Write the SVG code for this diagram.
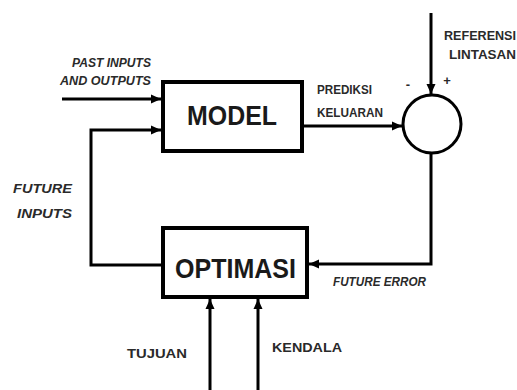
<svg xmlns="http://www.w3.org/2000/svg" width="517" height="390" viewBox="0 0 517 390">
<style>
.box{fill:#fff;stroke:#000;stroke-width:4}
.ln{fill:none;stroke:#000;stroke-width:3}
.big{font-family:"Liberation Sans",Arial,sans-serif;font-weight:bold;font-size:28px;fill:#1a1a1a}
.lb{font-family:"Liberation Sans",Arial,sans-serif;font-weight:bold;font-size:13px;fill:#2a2a2a}
.it{font-style:italic}
</style>
<defs>
<marker id="ah" markerUnits="userSpaceOnUse" markerWidth="10" markerHeight="10" refX="10" refY="5" orient="auto">
<path d="M0,0.5 L10,5 L0,9.5 z" fill="#000"/>
</marker>
</defs>
<rect width="517" height="390" fill="#fff"/>
<g id="connectors">
<line class="ln" x1="62" y1="99" x2="161" y2="99" marker-end="url(#ah)"/>
<polyline class="ln" points="163,265 91,265 91,130 161,130" marker-end="url(#ah)"/>
<line class="ln" x1="302" y1="126" x2="402" y2="126" marker-end="url(#ah)"/>
<line class="ln" x1="431" y1="13" x2="431" y2="94" marker-end="url(#ah)"/>
<polyline class="ln" points="431,153 431,264 309,264" marker-end="url(#ah)"/>
<line class="ln" x1="210" y1="390" x2="210" y2="299" marker-end="url(#ah)"/>
<line class="ln" x1="258" y1="390" x2="258" y2="299" marker-end="url(#ah)"/>
</g>
<g id="model">
<rect class="box" x="163" y="82" width="139" height="69"/>
<text class="big" x="232" y="125" text-anchor="middle" textLength="90" lengthAdjust="spacingAndGlyphs">MODEL</text>
</g>
<g id="optimasi">
<rect class="box" x="163" y="228" width="144" height="69"/>
<text class="big" x="235.5" y="278" text-anchor="middle" textLength="121" lengthAdjust="spacingAndGlyphs">OPTIMASI</text>
</g>
<g id="sum">
<circle cx="432" cy="124" r="29" fill="#fff" stroke="#000" stroke-width="3"/>
<text class="lb" x="408" y="89" text-anchor="middle">-</text>
<text class="lb" x="447" y="85" text-anchor="middle">+</text>
</g>
<g id="labels">
<text class="lb it" x="151" y="67" text-anchor="end" textLength="79" lengthAdjust="spacingAndGlyphs">PAST INPUTS</text>
<text class="lb it" x="151" y="85" text-anchor="end" textLength="91" lengthAdjust="spacingAndGlyphs">AND OUTPUTS</text>
<text class="lb" x="317" y="94" textLength="55" lengthAdjust="spacingAndGlyphs">PREDIKSI</text>
<text class="lb" x="317" y="117" textLength="66" lengthAdjust="spacingAndGlyphs">KELUARAN</text>
<text class="lb" x="444" y="40" textLength="72" lengthAdjust="spacingAndGlyphs">REFERENSI</text>
<text class="lb" x="449" y="59" textLength="67" lengthAdjust="spacingAndGlyphs">LINTASAN</text>
<text class="lb it" x="13" y="193" textLength="59" lengthAdjust="spacingAndGlyphs">FUTURE</text>
<text class="lb it" x="17" y="218" textLength="55" lengthAdjust="spacingAndGlyphs">INPUTS</text>
<text class="lb it" x="333" y="286" textLength="93" lengthAdjust="spacingAndGlyphs">FUTURE ERROR</text>
<text class="lb" x="127" y="358" textLength="60" lengthAdjust="spacingAndGlyphs">TUJUAN</text>
<text class="lb" x="272" y="352" textLength="70" lengthAdjust="spacingAndGlyphs">KENDALA</text>
</g>
</svg>
